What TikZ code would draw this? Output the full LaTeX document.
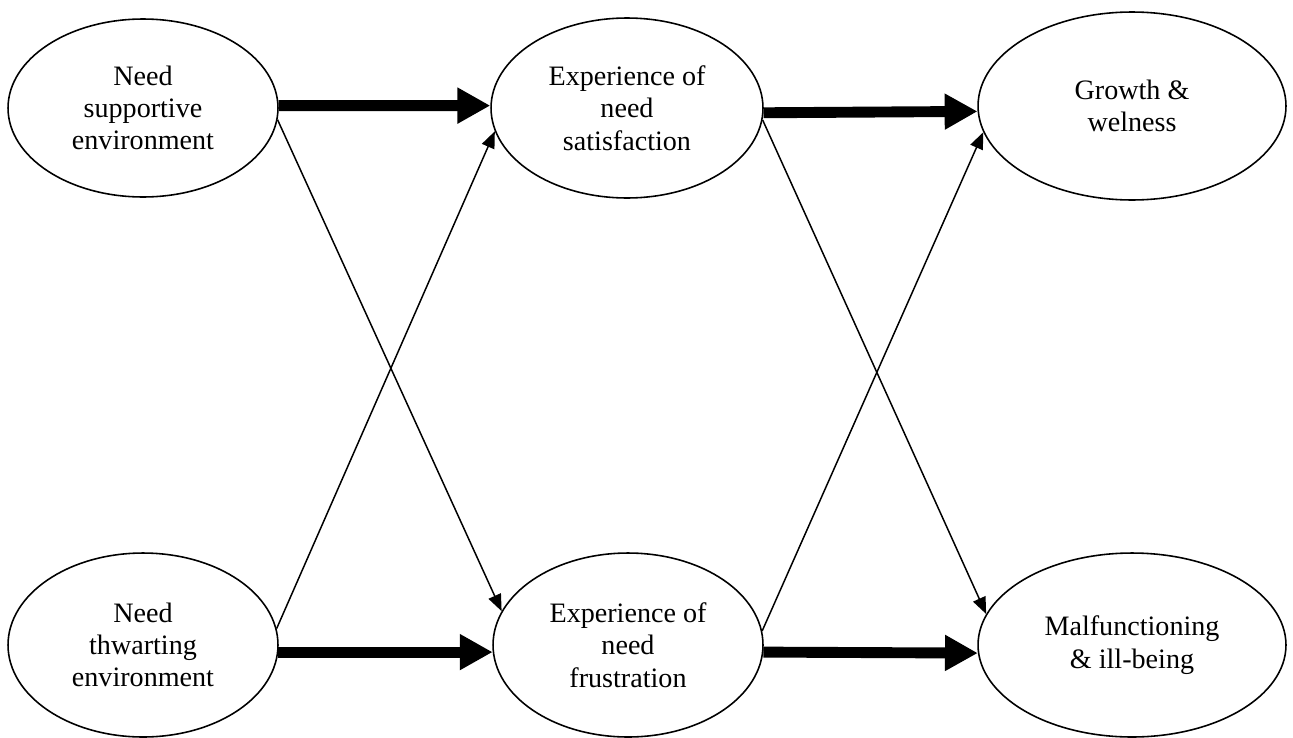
\documentclass[tikz,border=0pt]{standalone}
\usepackage{fontspec}
\setmainfont{Liberation Serif}
\usepackage{tikz}
\usetikzlibrary{shapes,arrows.meta,positioning}

\begin{document}
\begin{tikzpicture}[x=0.02cm, y=-0.02cm,
    box/.style={draw, ellipse, line width=0.9pt, inner sep=0pt, align=center,
        font=\fontsize{16}{18.4}\selectfont},
    strong/.style={line width=6.2pt, -{Triangle[length=18.7pt,width=19.3pt]}},
    weak/.style={line width=0.85pt, -{Triangle[length=9.5pt,width=7.6pt]}}]
    \useasboundingbox (0,0) rectangle (1293,737);

    \node[box, minimum width=5.4cm, minimum height=3.56cm] (supp) at (143,108) {Need\\supportive\\environment};
    \node[box, minimum width=5.44cm, minimum height=3.6cm] (sat) at (627,108) {Experience of\\need\\satisfaction};
    \node[box, minimum width=6.16cm, minimum height=3.76cm] (grow) at (1132,106) {Growth \&\\welness};

    \node[box, minimum width=5.4cm, minimum height=3.68cm] (thw) at (143,645) {Need\\thwarting\\environment};
    \node[box, minimum width=5.4cm, minimum height=3.68cm] (frus) at (628,645) {Experience of\\need\\frustration};
    \node[box, minimum width=6.16cm, minimum height=3.68cm] (mal) at (1132,645) {Malfunctioning\\\& ill-being};

    % strong paths
    \draw[strong] (supp.1) -- (sat.179);
    \draw[strong] (sat.-2) -- (grow.182);
    \draw[strong] (thw.-3) -- (frus.183);
    \draw[strong] (frus.-3) -- (mal.183);

    % crossing paths
    \draw[weak] (supp.-5) -- (frus.165);
    \draw[weak] (thw.7) -- (sat.-170);
    \draw[weak] (sat.-5) -- (mal.168);
    \draw[weak] (frus.6) -- (grow.-170);
\end{tikzpicture}
\end{document}
